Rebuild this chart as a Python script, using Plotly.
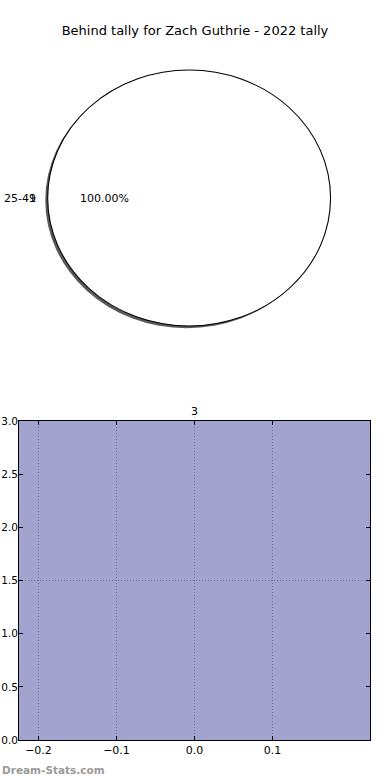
import plotly.graph_objects as go

# ---- data ----
pie_labels = ["25-49"]
pie_values = [1]
bar_x = [0.0]
bar_y = [3]
bar_width = 0.45
x_ticks = [-0.2, -0.1, 0.0, 0.1]
y_ticks = [0.0, 0.5, 1.0, 1.5, 2.0, 2.5, 3.0]
y_grid = [1.5]
title_text = "Behind tally for Zach Guthrie - 2022 tally"
watermark = "Dream-Stats.com"

W, H = 390, 780
FONT = "DejaVu Sans"

fig = go.Figure()

# pie geometry (paper)
cx, cy, r = 189 / W, 1 - 198 / H, 128 / H
dom_y = [cy - r, cy + r]
dom_x = [cx - 0.4, cx + 0.4]

# shadow pie
fig.add_trace(go.Pie(
    labels=pie_labels, values=pie_values, sort=False,
    domain=dict(x=[dom_x[0] - 2.2 / W, dom_x[1] - 2.2 / W], y=[dom_y[0] - 2.2 / H, dom_y[1] - 2.2 / H]),
    marker=dict(colors=["rgba(60,60,60,0.85)"], line=dict(width=0)),
    textinfo="none", hoverinfo="skip", showlegend=False, automargin=False,
))
# main pie
fig.add_trace(go.Pie(
    labels=pie_labels, values=pie_values, sort=False,
    domain=dict(x=dom_x, y=dom_y),
    marker=dict(colors=["white"], line=dict(color="black", width=1)),
    textinfo="none", showlegend=False, automargin=False,
))

# bar
fig.add_trace(go.Bar(
    x=bar_x, y=bar_y, width=[bar_width] * len(bar_x),
    marker=dict(color="rgba(102,102,176,0.6)", line=dict(width=0)),
    showlegend=False,
    text=[str(v) for v in bar_y], textposition="outside",
    textfont=dict(family=FONT, size=11, color="black"),
    cliponaxis=False,
))
# empty helper trace so the overlay axis (grid at 1.5) is drawn
fig.add_trace(go.Scatter(x=[], y=[], yaxis="y2", showlegend=False, hoverinfo="skip"))

# pie annotations
total = sum(pie_values)
ann = []
for lab, v in zip(pie_labels, pie_values):
    ann.append(dict(x=20 / W, y=cy, xref="paper", yref="paper", xanchor="center", yanchor="middle",
                    text=lab, showarrow=False, font=dict(family=FONT, size=11, color="black")))
    ann.append(dict(x=32 / W, y=cy, xref="paper", yref="paper", xanchor="center", yanchor="middle",
                    text=str(v), showarrow=False, font=dict(family=FONT, size=11, color="black")))
    ann.append(dict(x=104.5 / W, y=cy, xref="paper", yref="paper", xanchor="center", yanchor="middle",
                    text=f"{v / total * 100:.2f}%", showarrow=False,
                    font=dict(family=FONT, size=11, color="black")))
ann.append(dict(x=0, y=1 - 770 / H, xref="paper", yref="paper", xanchor="left", yanchor="middle",
                text=f"<b>{watermark}</b>", showarrow=False,
                font=dict(family=FONT, size=10.5, color="#9a9a9a")))

x0 = bar_x[0] - bar_width / 2
x1 = bar_x[0] + bar_width / 2
GRID = "#8c8c8c"

fig.update_layout(
    width=W, height=H,
    margin=dict(l=0, r=0, t=0, b=0, pad=0),
    paper_bgcolor="white", plot_bgcolor="white",
    font=dict(family=FONT, size=11, color="black"),
    title=dict(text=title_text, x=0.5, xanchor="center", y=1 - 30 / H, yanchor="middle",
               font=dict(family=FONT, size=13, color="black")),
    annotations=ann,
    bargap=0,
    xaxis=dict(
        domain=[19 / W, 370 / W], range=[x0, x1], automargin=False,
        tickvals=x_ticks, tickformat=".1f",
        showgrid=True, gridcolor=GRID, griddash="1px,2px", gridwidth=1,
        showline=True, linecolor="black", linewidth=1, mirror="ticks",
        ticks="inside", ticklen=4, tickcolor="black",
        zeroline=False, fixedrange=True,
        tickfont=dict(family=FONT, size=11, color="black"),
    ),
    yaxis=dict(
        domain=[1 - 740 / H, 1 - 421 / H], range=[0, 3], automargin=False,
        tickvals=y_ticks, tickformat=".1f",
        showgrid=False,
        showline=True, linecolor="black", linewidth=1, mirror="ticks",
        ticks="inside", ticklen=4, tickcolor="black",
        ticklabelstandoff=-2,
        zeroline=False, fixedrange=True,
        tickfont=dict(family=FONT, size=10.5, color="black"),
    ),
    yaxis2=dict(
        overlaying="y", range=[0, 3], tickvals=y_grid, automargin=False,
        showgrid=True, gridcolor=GRID, griddash="1px,2px", gridwidth=1,
        showticklabels=False, ticks="", showline=False, zeroline=False, fixedrange=True,
    ),
)

# stretch the pie horizontally (reference pie is drawn on a non-square axes)
post_js = """
var gd = document.getElementById('{plot_id}');
gd.querySelectorAll('.pielayer').forEach(function(el){
  el.style.transformBox = 'fill-box';
  el.style.transformOrigin = 'center';
  el.style.transform = 'scaleX(1.105)';
});
"""
fig.write_html("out.html", post_script=post_js)
